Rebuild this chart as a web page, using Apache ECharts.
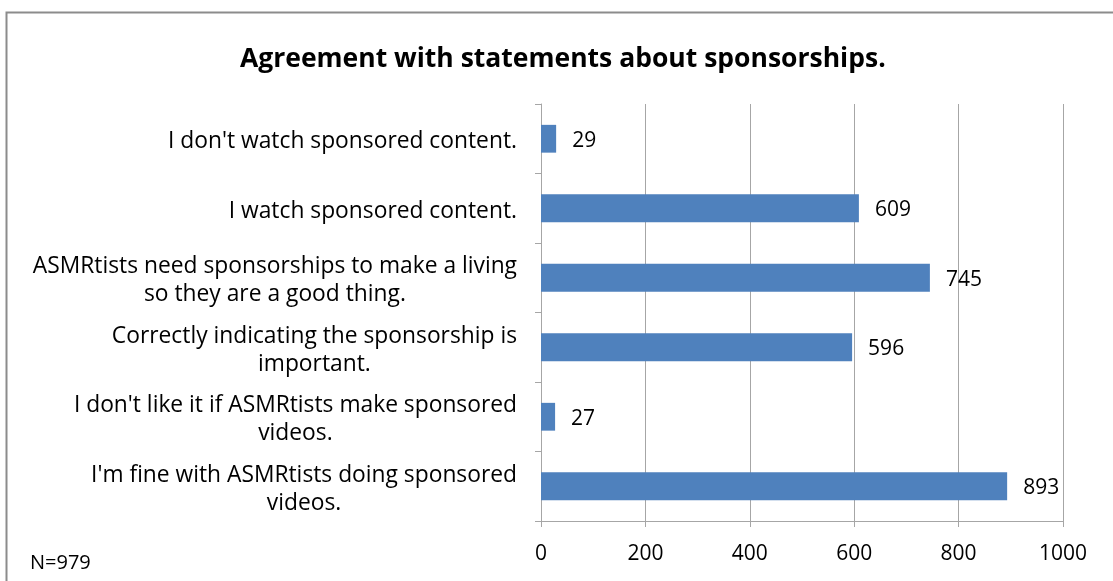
<!DOCTYPE html>
<html>
<head>
<meta charset="utf-8">
<style>
  html, body { margin: 0; padding: 0; background: #fff; }
  #chart { width: 1113px; height: 581px; }
</style>
<script src="https://cdn.jsdelivr.net/npm/echarts@6/dist/echarts.min.js"></script>
</head>
<body>
<div id="chart"></div>
<script>
// Statements, listed top to bottom
const statements = [
  "I don't watch sponsored content.",
  "I watch sponsored content.",
  "ASMRtists need sponsorships to make a living\nso they are a good thing.",
  "Correctly indicating the sponsorship is\nimportant.",
  "I don't like it if ASMRtists make sponsored\nvideos.",
  "I'm fine with ASMRtists doing sponsored\nvideos."
];
// Number of respondents agreeing with each statement
const agreeCounts = [29, 609, 745, 596, 27, 893];
const axisMax = 1000;
const axisStep = 200;
const titleText = 'Agreement with statements about sponsorships.';
const sampleNote = 'N=979';

const FONT = '"Open Sans", "Noto Sans", sans-serif';
const GRID_GRAY = '#A6A6A6';

const chart = echarts.init(document.getElementById('chart'), null, { renderer: 'canvas' });

chart.setOption({
  backgroundColor: '#ffffff',
  animation: false,
  title: {
    text: titleText,
    left: 235,
    top: 41,
    textStyle: { fontFamily: FONT, fontWeight: 'bold', fontSize: 26.5, color: '#000' }
  },
  graphic: [
    {
      type: 'rect',
      shape: { x: 6.5, y: 12.5, width: 1200, height: 700 },
      style: { fill: 'none', stroke: '#8C8C8C', lineWidth: 2 },
      silent: true
    },
    {
      type: 'text',
      left: 30,
      top: 553,
      style: { text: sampleNote, fontFamily: FONT, fontSize: 20, fill: '#000' }
    }
  ],
  grid: { left: 541, right: 50, top: 104, bottom: 60, containLabel: false },
  xAxis: {
    type: 'value',
    min: 0,
    max: axisMax,
    interval: axisStep,
    axisLine: { show: true, lineStyle: { color: GRID_GRAY, width: 1 } },
    axisTick: { show: true, length: 6, lineStyle: { color: GRID_GRAY } },
    splitLine: { show: true, lineStyle: { color: GRID_GRAY, width: 1 } },
    axisLabel: {
      margin: 23, fontFamily: FONT, fontSize: 21, color: '#000',
      formatter: function (v) { return String(v); }
    }
  },
  yAxis: {
    type: 'category',
    data: statements,
    inverse: true,
    axisLine: { show: true, lineStyle: { color: GRID_GRAY, width: 1 } },
    axisTick: { show: true, length: 6, lineStyle: { color: GRID_GRAY } },
    axisLabel: {
      margin: 24,
      align: 'right',
      fontFamily: FONT,
      fontSize: 22.8,
      color: '#000',
      lineHeight: 28,
      padding: [6, 0, 0, 0],
      // each line is centred inside the right-aligned label block
      formatter: function (v) {
        return v.split('\n').map(function (l) { return '{c|' + l + '}'; }).join('\n');
      },
      rich: { c: { align: 'center', fontFamily: FONT, fontSize: 22.8, lineHeight: 28, color: '#000' } }
    }
  },
  series: [{
    type: 'bar',
    data: agreeCounts,
    barWidth: '40%',
    itemStyle: { color: '#4F81BD' },
    label: {
      show: true,
      position: 'right',
      distance: 16,
      offset: [0, 2],
      fontFamily: FONT,
      fontSize: 21,
      color: '#000'
    }
  }]
});
</script>
</body>
</html>
